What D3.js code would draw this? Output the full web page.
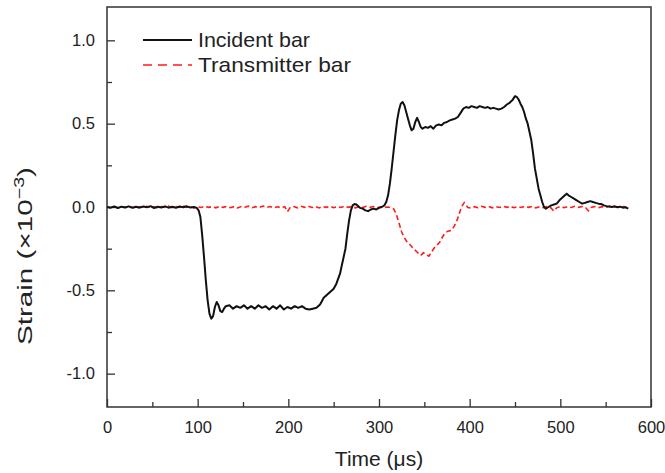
<!DOCTYPE html>
<html><head><meta charset="utf-8">
<script src="https://cdn.jsdelivr.net/npm/d3@7"></script>
<style>
html,body{margin:0;padding:0;background:#fff;}
svg text{font-family:"Liberation Sans",Arial,sans-serif;fill:#222;}
</style></head>
<body><svg id="chart" width="665" height="473"></svg>
<script>
// ---- data ----
const incidentTime = [0,4,8,12,16,20,24,28,32,36,40,44,48,52,56,60,64,68,72,76,80,84,88,92,96,
 99,101,103,105,107,109,111,113,115,117,119,121,123,125,127,129,131,
 135,139,143,147,151,155,159,163,167,171,175,179,183,187,191,195,199,203,207,211,215,219,223,227,231,235,
 239,243,247,250,253,255,257,259,261,263,265,267,269,271,273,275,279,282,285,288,291,294,297,300,303,306,
 308,310,312,314,316,318,320,322,324,326,328,330,332,334,336,338,340,342,344,346,348,351,354,357,360,363,
 366,369,372,375,378,381,384,387,390,393,396,399,402,405,408,411,414,417,420,423,426,429,432,435,438,441,
 444,447,450,452,454,456,458,460,462,464,466,468,470,472,474,476,478,480,482,484,487,490,493,496,499,502,
 505,507,509,512,515,518,521,524,527,530,533,536,539,542,545,548,551,554,557,560,563,566,569,572,575];
const incidentStrain = [0.000,-0.004,0.003,-0.006,0.002,-0.003,0.004,-0.005,0.001,-0.004,0.003,-0.002,0.005,-0.006,0.002,-0.003,0.004,-0.004,0.001,-0.005,0.003,-0.002,0.004,-0.003,0.000,
 -0.005,-0.02,-0.06,-0.17,-0.30,-0.44,-0.56,-0.64,-0.67,-0.655,-0.60,-0.57,-0.59,-0.625,-0.63,-0.61,-0.595,
 -0.59,-0.61,-0.595,-0.605,-0.59,-0.61,-0.595,-0.61,-0.59,-0.605,-0.595,-0.615,-0.595,-0.61,-0.59,-0.615,-0.60,-0.61,-0.595,-0.605,-0.595,-0.61,-0.615,-0.61,-0.605,-0.585,
 -0.545,-0.525,-0.505,-0.49,-0.46,-0.43,-0.40,-0.35,-0.30,-0.25,-0.16,-0.08,-0.02,0.01,0.018,0.015,-0.005,-0.01,-0.02,-0.025,-0.015,-0.01,-0.015,-0.005,0.000,0.01,
 0.03,0.07,0.14,0.23,0.33,0.43,0.52,0.58,0.62,0.63,0.61,0.57,0.53,0.49,0.46,0.47,0.51,0.535,0.51,0.48,0.47,0.48,0.475,0.485,0.47,0.49,
 0.495,0.49,0.505,0.51,0.52,0.525,0.53,0.54,0.565,0.59,0.60,0.595,0.605,0.60,0.595,0.605,0.60,0.595,0.60,0.59,0.595,0.59,0.585,0.59,0.60,0.615,
 0.625,0.64,0.665,0.66,0.645,0.62,0.60,0.57,0.53,0.50,0.45,0.40,0.32,0.23,0.17,0.11,0.07,0.03,0.00,-0.01,0.00,0.01,0.015,0.02,0.04,0.055,
 0.07,0.08,0.07,0.06,0.05,0.04,0.03,0.02,0.025,0.03,0.035,0.03,0.025,0.02,0.018,0.01,0.005,0.003,0.000,0.004,-0.002,0.002,-0.004,-0.002,-0.01];

const transmitTime = [0,4,8,12,16,20,24,28,32,36,40,44,48,52,56,60,64,68,72,76,80,84,88,92,96,100,104,108,112,116,120,124,128,132,136,140,144,148,152,156,160,164,168,172,176,180,184,188,192,196,199,202,206,210,214,218,222,226,230,234,238,242,246,250,254,258,262,266,270,274,278,282,286,290,294,298,302,306,310,313,
 316,318,320,322,325,328,331,334,338,342,346,349,352,355,358,361,364,367,370,373,376,380,383,386,388,390,392,394,396,398,
 401,405,409,413,417,421,425,429,433,437,441,445,449,453,457,461,465,469,473,477,481,485,489,493,496,500,504,508,512,516,520,524,528,531,534,538,542,546,550,554,558,562,566,570,575];
const transmitStrain = [0.000,-0.004,0.003,-0.006,0.002,-0.003,0.005,-0.002,-0.006,0.002,-0.004,0.004,-0.003,0.001,-0.006,0.003,-0.002,0.005,-0.004,0.002,-0.003,0.006,-0.002,0.003,-0.005,0.001,-0.003,0.004,-0.002,0.002,-0.005,0.003,-0.002,0.004,-0.004,0.002,-0.006,0.003,-0.001,0.005,-0.004,0.002,-0.003,0.006,-0.002,0.003,-0.005,0.001,-0.004,0.002,-0.028,-0.004,0.003,-0.005,0.004,-0.002,0.005,-0.003,0.002,-0.006,0.003,-0.002,0.004,-0.004,0.002,-0.003,0.005,-0.002,0.003,-0.005,0.002,-0.003,0.004,-0.002,0.003,-0.004,0.001,-0.003,0.000,-0.004,
 -0.01,-0.03,-0.06,-0.095,-0.15,-0.185,-0.21,-0.225,-0.25,-0.27,-0.29,-0.275,-0.285,-0.295,-0.27,-0.245,-0.23,-0.21,-0.18,-0.155,-0.145,-0.14,-0.115,-0.08,-0.05,-0.015,0.01,0.026,0.01,-0.003,
 -0.006,0.002,-0.004,0.004,-0.002,0.003,-0.005,0.002,-0.003,0.005,-0.002,0.003,-0.004,0.002,-0.003,0.004,-0.002,0.003,-0.005,0.002,-0.004,0.003,-0.002,-0.025,-0.005,0.003,-0.004,0.002,-0.003,0.004,-0.002,0.003,-0.004,-0.022,-0.003,0.003,-0.004,0.002,-0.003,0.004,-0.002,0.003,-0.004,0.002,-0.005];

const seriesNames = ["Incident bar","Transmitter bar"];
const xMajorTicks = [0,100,200,300,400,500,600];
const xMinorTicks = [50,150,250,350,450,550];
const yMajorTicks = [-1.0,-0.5,0.0,0.5,1.0];
const yTickLabels = ["-1.0","-0.5","0.0","0.5","1.0"];
const yMinorTicks = [-0.75,-0.25,0.25,0.75];

// ---- layout ----
const svg = d3.select("#chart");
const L = 107, R = 651, T = 7, B = 407;
const x = d3.scaleLinear().domain([0,600]).range([L,R]);
const y = d3.scaleLinear().domain([-1.2,1.2]).range([B,T]);
const axisColor = "#333";

svg.append("defs").append("clipPath").attr("id","clip")
  .append("rect").attr("x",L).attr("y",T).attr("width",R-L).attr("height",B-T);

// axes with inward ticks
const xAxis = svg.append("g").attr("transform",`translate(0,${B})`)
  .call(d3.axisBottom(x).tickValues(xMajorTicks).tickSize(-8).tickPadding(14).tickFormat(d3.format("d")));
const xMinor = svg.append("g").attr("transform",`translate(0,${B})`)
  .call(d3.axisBottom(x).tickValues(xMinorTicks).tickSize(-5).tickFormat(""));
const yAxis = svg.append("g").attr("transform",`translate(${L},0)`)
  .call(d3.axisLeft(y).tickValues(yMajorTicks).tickSize(-8).tickPadding(12)
    .tickFormat((d,i)=>yTickLabels[i]));
const yMinor = svg.append("g").attr("transform",`translate(${L},0)`)
  .call(d3.axisLeft(y).tickValues(yMinorTicks).tickSize(-5).tickFormat(""));
[xAxis,xMinor,yAxis,yMinor].forEach(g=>{
  g.select(".domain").remove();
  g.selectAll(".tick line").attr("stroke",axisColor).attr("stroke-width",1.3);
  g.selectAll(".tick text").attr("font-size",16.5).attr("fill","#222")
   .style("font-family",'"Liberation Sans",Arial,sans-serif');
});

// frame
svg.append("rect").attr("x",L).attr("y",T).attr("width",R-L).attr("height",B-T)
  .attr("fill","none").attr("stroke",axisColor).attr("stroke-width",1.5);

// lines
const incident = incidentTime.map((t,i)=>[t,incidentStrain[i]]);
const transmit = transmitTime.map((t,i)=>[t,transmitStrain[i]]);
const line = d3.line().x(d=>x(d[0])).y(d=>y(d[1]));
const plot = svg.append("g").attr("clip-path","url(#clip)");
plot.append("path").datum(transmit).attr("d",line).attr("fill","none")
  .attr("stroke","#ff1a1a").attr("stroke-width",1.6).attr("stroke-dasharray","5,3");
plot.append("path").datum(incident).attr("d",line).attr("fill","none")
  .attr("stroke","#111").attr("stroke-width",2).attr("stroke-linejoin","round");

// legend
const lg = svg.append("g");
lg.append("line").attr("x1",143).attr("x2",192).attr("y1",40).attr("y2",40)
  .attr("stroke","#111").attr("stroke-width",2);
lg.append("line").attr("x1",143).attr("x2",192).attr("y1",65).attr("y2",65)
  .attr("stroke","#ff1a1a").attr("stroke-width",1.6).attr("stroke-dasharray","9,6");
lg.append("text").attr("x",198).attr("y",47).attr("font-size",21)
  .attr("textLength",112).attr("lengthAdjust","spacingAndGlyphs").text(seriesNames[0]);
lg.append("text").attr("x",198).attr("y",72).attr("font-size",21)
  .attr("textLength",153).attr("lengthAdjust","spacingAndGlyphs").text(seriesNames[1]);

// axis titles
svg.append("text").attr("x",(L+R)/2).attr("y",466).attr("text-anchor","middle")
  .attr("font-size",21).text("Time (μs)");
const yt = svg.append("text").attr("transform","translate(32,256) rotate(-90)")
  .attr("text-anchor","middle").attr("font-size",21)
  .attr("textLength",178).attr("lengthAdjust","spacingAndGlyphs");
yt.append("tspan").text("Strain (×10");
yt.append("tspan").attr("dy",-8).attr("font-size",14).text("−3");
yt.append("tspan").attr("dy",8).text(")");
</script></body></html>
